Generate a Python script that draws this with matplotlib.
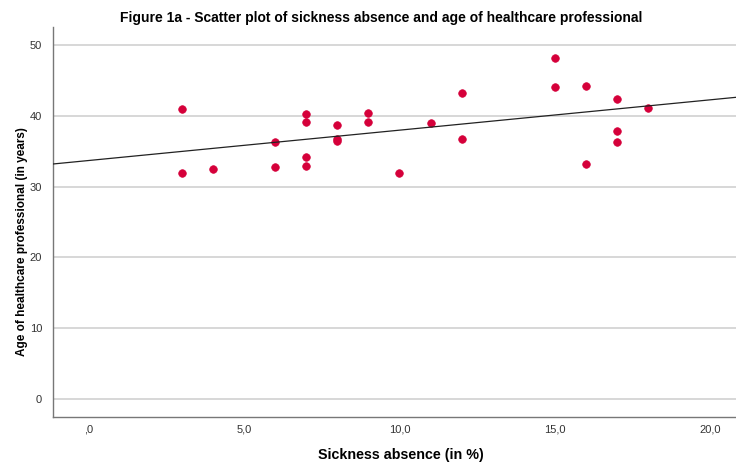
import numpy as np
import matplotlib
matplotlib.use("Agg")
import matplotlib.pyplot as plt
from matplotlib.ticker import FuncFormatter

plt.rcParams['font.family'] = ['Liberation Sans', 'DejaVu Sans']

sickness = [3, 3, 4, 6, 6, 7, 7, 7, 7, 8, 8, 8, 9, 9, 10, 11, 12, 12,
            15, 15, 16, 16, 17, 17, 17, 18]
age = [41.0, 32.0, 32.5, 36.4, 32.8, 40.3, 39.2, 34.2, 33.0, 38.8, 36.8, 36.5,
       40.5, 39.2, 32.0, 39.0, 43.2, 36.7, 48.2, 44.1, 44.2, 33.2, 42.4, 37.9,
       36.3, 41.2]
x_ticks = [0, 5, 10, 15, 20]
y_ticks = [0, 10, 20, 30, 40, 50]

fig = plt.figure(figsize=(7.36, 4.62), dpi=100)
ax = fig.add_axes([0.0724, 0.0968, 0.9276, 0.8448])

ax.set_xlim(-1.13, 20.82)
ax.set_ylim(-2.6, 52.6)

for yt in y_ticks:
    ax.axhline(yt, color='#d4d4d4', linewidth=1.3, zorder=1)

ax.scatter(sickness, age, s=30, color='#d5003a', edgecolors='#d5003a',
           linewidths=0.5, zorder=3)

slope, intercept = np.polyfit(sickness, age, 1)
xl = np.array(ax.get_xlim())
ax.plot(xl, intercept + slope * xl, color='#222222', linewidth=0.9, zorder=4)

ax.set_xticks(x_ticks)
ax.set_yticks(y_ticks)

def fmt_x(v, pos):
    s = f"{v:.1f}".replace('.', ',')
    if s.startswith('0,'):
        s = s[1:]
    return s

ax.xaxis.set_major_formatter(FuncFormatter(fmt_x))
ax.tick_params(axis='both', length=0, labelsize=8, colors='#333333')
ax.tick_params(axis='x', pad=5)
ax.tick_params(axis='y', pad=8)

for side in ['top', 'right']:
    ax.spines[side].set_visible(False)
for side in ['left', 'bottom']:
    ax.spines[side].set_color('#777777')
    ax.spines[side].set_linewidth(1.0)

ax.set_xlabel('Sickness absence (in %)', fontsize=10.3, fontweight='bold',
              va='center')
ax.xaxis.set_label_coords(0.5095, -0.097)
ax.set_ylabel('Age of healthcare professional (in years)', fontsize=8.5,
              fontweight='bold')
ax.yaxis.set_label_coords(-0.037, 0.449)
fig.text(0.518, 0.962, 'Figure 1a - Scatter plot of sickness absence and age of healthcare professional',
         ha='center', va='center', fontsize=10, fontweight='bold')

fig.savefig('out.png', dpi=100)
